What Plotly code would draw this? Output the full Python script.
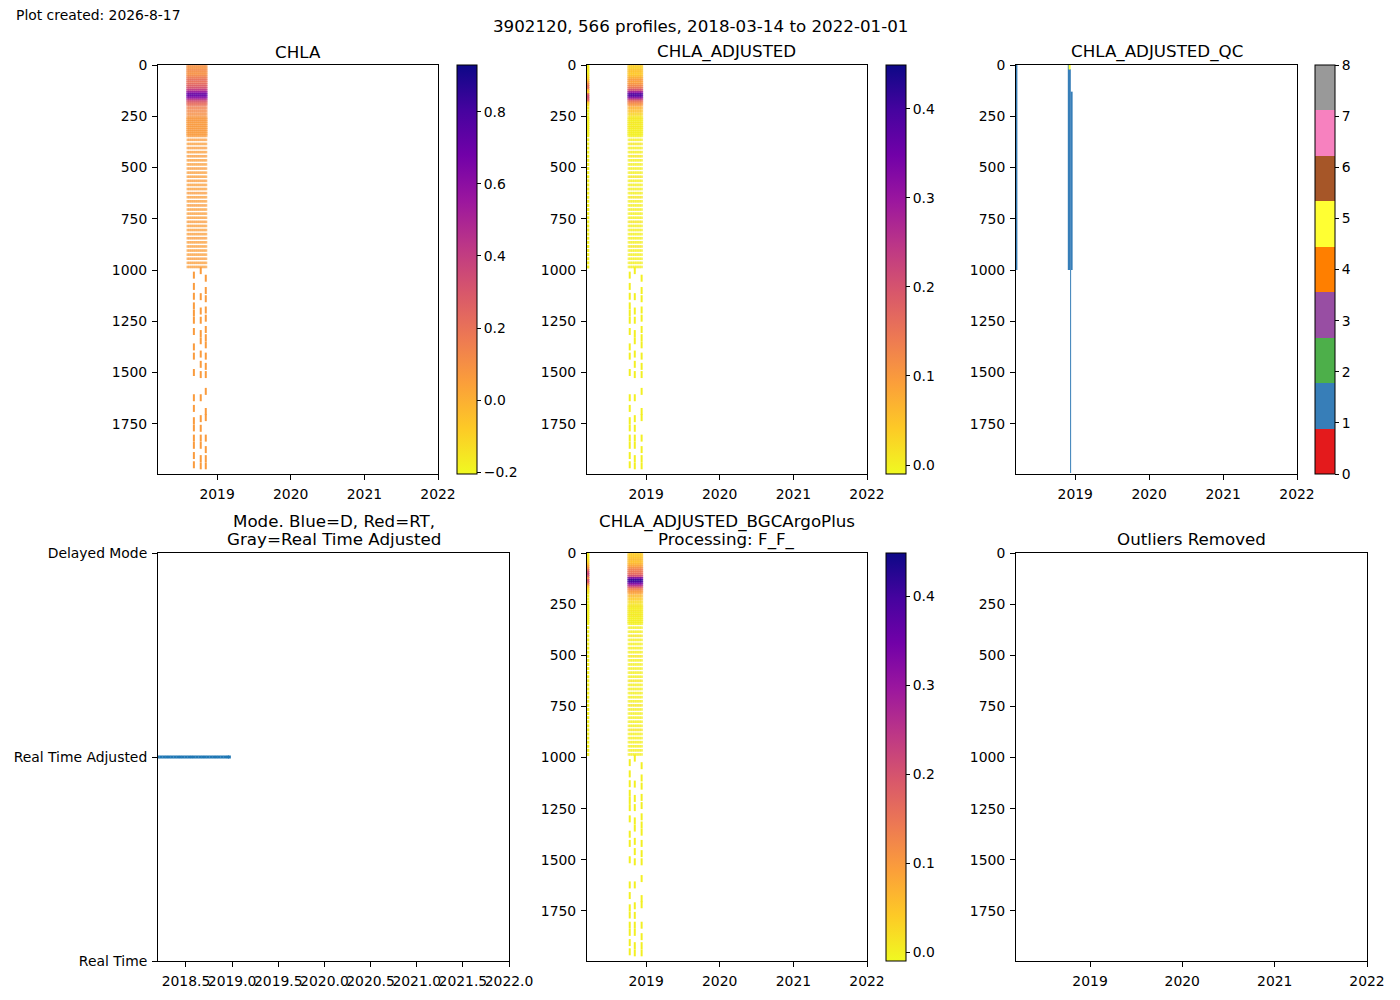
import plotly.graph_objects as go

# profile dates that carry samples in the upper 1000 dbar
chla_dates = ['2018-08-09', '2018-08-19', '2018-08-29', '2018-09-08', '2018-09-18',
              '2018-09-28', '2018-10-08', '2018-10-18', '2018-10-28', '2018-11-07']
adj_dates = ['2018-10-08', '2018-10-17', '2018-10-26', '2018-11-04', '2018-11-13',
             '2018-11-22', '2018-12-01', '2018-12-10']
first_profile_date = '2018-03-18'

# deep profiles (below ~1000 dbar)
chla_deep_dates = ['2018-09-08', '2018-10-12', '2018-11-06']
adj_deep_dates = ['2018-10-12', '2018-11-06', '2018-12-10']

upper_depths = [5, 15, 25, 35, 45, 55, 65, 75, 85, 95,
                105, 115, 125, 135, 145, 155, 165, 175, 185, 195,
                210, 225, 240, 255, 265, 275, 285, 295, 305, 315,
                325, 335, 345, 365, 385, 405, 425, 445, 465, 485,
                505, 525, 545, 565, 585, 605, 625, 645, 665, 685,
                705, 725, 745, 765, 785, 805, 825, 845, 865, 885,
                905, 925, 945, 965, 985]

chla_upper = [0.10, 0.08, 0.12, 0.10, 0.09, 0.14, 0.18, 0.22, 0.20, 0.24,
              0.28, 0.33, 0.45, 0.62, 0.74, 0.68, 0.52, 0.34, 0.25, 0.20,
              0.15, 0.12, 0.10, 0.08, 0.07, 0.07, 0.06, 0.07, 0.06, 0.07,
              0.06, 0.06, 0.06, 0.06, 0.05, 0.06, 0.05, 0.06, 0.05, 0.05,
              0.06, 0.05, 0.05, 0.06, 0.05, 0.05, 0.06, 0.05, 0.05, 0.06,
              0.05, 0.05, 0.05, 0.06, 0.05, 0.05, 0.05, 0.06, 0.05, 0.05,
              0.05, 0.05, 0.06, 0.05, 0.05]

adj_upper = [0.04, 0.03, 0.05, 0.05, 0.04, 0.06, 0.08, 0.10, 0.09, 0.11,
             0.13, 0.16, 0.22, 0.32, 0.40, 0.37, 0.27, 0.17, 0.13, 0.10,
             0.07, 0.05, 0.03, 0.01, 0.01, 0.00, 0.01, 0.00, 0.01, 0.00,
             0.00, 0.00, 0.00, 0.00, 0.01, 0.00, 0.00, 0.01, 0.00, 0.00,
             0.00, 0.00, 0.01, 0.00, 0.00, 0.00, 0.00, 0.01, 0.00, 0.00,
             0.00, 0.00, 0.00, 0.01, 0.00, 0.00, 0.00, 0.00, 0.00, 0.01,
             0.00, 0.00, 0.00, 0.00, 0.00]

plus_upper = [0.04, 0.04, 0.05, 0.06, 0.05, 0.07, 0.09, 0.12, 0.14, 0.15,
              0.17, 0.22, 0.36, 0.42, 0.38, 0.30, 0.22, 0.14, 0.11, 0.09,
              0.06, 0.04, 0.02, 0.01, 0.01, 0.00, 0.01, 0.00, 0.01, 0.00,
              0.00, 0.00, 0.00, 0.00, 0.00, 0.01, 0.00, 0.00, 0.00, 0.00,
              0.01, 0.00, 0.00, 0.00, 0.00, 0.00, 0.01, 0.00, 0.00, 0.00,
              0.00, 0.00, 0.01, 0.00, 0.00, 0.00, 0.00, 0.00, 0.01, 0.00,
              0.00, 0.00, 0.00, 0.00, 0.00]

# first profile (March 2018), adjusted chla
first_adj = [0.00, 0.01, 0.01, 0.00, 0.01, 0.02, 0.03, 0.05, 0.08, 0.12,
             0.15, 0.14, 0.06, 0.04, 0.17, 0.20, 0.19, 0.16, 0.05, 0.02,
             0.01, 0.00, 0.00, 0.00, 0.00, 0.00, 0.00, 0.00, 0.00, 0.00,
             0.00, 0.00, 0.00, 0.00, 0.00, 0.00, 0.00, 0.00, 0.00, 0.00,
             0.00, 0.00, 0.00, 0.00, 0.00, 0.00, 0.00, 0.00, 0.00, 0.00,
             0.00, 0.00, 0.00, 0.00, 0.00, 0.00, 0.00, 0.00, 0.00, 0.00,
             0.00, 0.00, 0.00, 0.00, 0.00]
first_plus = [0.00, 0.01, 0.01, 0.02, 0.03, 0.05, 0.08, 0.11, 0.16, 0.20,
              0.22, 0.18, 0.12, 0.20, 0.18, 0.12, 0.06, 0.03, 0.02, 0.01,
              0.00, 0.00, 0.00, 0.00, 0.00, 0.00, 0.00, 0.00, 0.00, 0.00,
              0.00, 0.00, 0.00, 0.00, 0.00, 0.00, 0.00, 0.00, 0.00, 0.00,
              0.00, 0.00, 0.00, 0.00, 0.00, 0.00, 0.00, 0.00, 0.00, 0.00,
              0.00, 0.00, 0.00, 0.00, 0.00, 0.00, 0.00, 0.00, 0.00, 0.00,
              0.00, 0.00, 0.00, 0.00, 0.00]

deep_depths = [
    [1025, 1080, 1128, 1175, 1210, 1245, 1300, 1375, 1420, 1500, 1623, 1675,
     1735, 1770, 1820, 1855, 1905, 1950],
    [1003, 1130, 1200, 1245, 1310, 1345, 1410, 1460, 1510, 1623, 1725, 1772,
     1820, 1855, 1920, 1955],
    [1040, 1100, 1140, 1195, 1235, 1290, 1330, 1365, 1420, 1470, 1510, 1592,
     1690, 1720, 1820, 1876, 1920, 1955],
]
chla_deep = [0.06, 0.06, 0.06]
adj_deep = [0.0, 0.0, 0.0]

# QC flag segments: date, top, bottom, flag
qc_dates = ['2018-03-16', '2018-11-30', '2018-12-05', '2018-12-14', '2018-12-04', '2018-12-09']
qc_top = [0, 0, 20, 130, 0, 1000]
qc_bottom = [1000, 1000, 1000, 1000, 22, 1990]
qc_flag = [1, 1, 1, 1, 5, 1]

# data mode per profile (1 = real time adjusted)
mode_years = [2018.20, 2018.23, 2018.26, 2018.29, 2018.32, 2018.35, 2018.38, 2018.41,
              2018.44, 2018.47, 2018.50, 2018.53, 2018.56, 2018.59, 2018.62, 2018.65,
              2018.68, 2018.71, 2018.74, 2018.77, 2018.80, 2018.83, 2018.86, 2018.89,
              2018.92, 2018.95, 2018.97]
mode_code = [1, 1, 1, 1, 1, 1, 1, 1, 1, 1, 1, 1, 1, 1, 1, 1, 1, 1, 1, 1, 1, 1, 1, 1, 1, 1, 1]

SET1 = ['#e41a1c', '#377eb8', '#4daf4a', '#984ea3', '#ff7f00',
        '#ffff33', '#a65628', '#f781bf', '#999999']
FONT = 'DejaVu Sans'
# the page adds an 8px body margin, so the figure is drawn 8px smaller
OFF = 8
W, H = 1400 - OFF, 1000 - OFF


def px_x(a, b):
    return [(a - OFF) / W, (b - OFF) / W]


def px_y(top, bottom):
    return [1 - (bottom - OFF) / H, 1 - (top - OFF) / H]


def grid_points(dates, depths, values):
    xs, ys, cs, ss = [], [], [], []
    for d in dates:
        for z, v in zip(depths, values):
            xs.append(d)
            ys.append(z)
            cs.append(v)
            ss.append(3 if z < 350 else 2.6)
    return xs, ys, cs, ss


def deep_points(dates, values):
    xs, ys, cs = [], [], []
    for d, zs, v in zip(dates, deep_depths, values):
        for z in zs:
            xs.append(d)
            ys.append(z)
            cs.append(v)
    return xs, ys, cs


fig = go.Figure()


def add_profile_panel(xa, ya, cax, dates, values, deep_dates, deep_vals,
                      first_vals=None):
    xs, ys, cs, ss = grid_points(dates, upper_depths, values)
    fig.add_trace(go.Scatter(
        x=xs, y=ys, mode='markers', xaxis=xa, yaxis=ya, showlegend=False,
        marker=dict(symbol='square', size=ss, color=cs, coloraxis=cax,
                    line=dict(width=0))))
    if first_vals is not None:
        fx, fy, fc, _ = grid_points([first_profile_date], upper_depths, first_vals)
        fig.add_trace(go.Scatter(
            x=fx, y=fy, mode='markers', xaxis=xa, yaxis=ya, showlegend=False,
            marker=dict(symbol='square', size=3, color=fc, coloraxis=cax,
                        line=dict(width=0))))
    dx, dy, dc = deep_points(deep_dates, deep_vals)
    fig.add_trace(go.Scatter(
        x=dx, y=dy, mode='markers', xaxis=xa, yaxis=ya, showlegend=False,
        marker=dict(symbol='line-ns', size=5, color=dc, coloraxis=cax,
                    line=dict(width=2, color=dc, coloraxis=cax))))


add_profile_panel('x', 'y', 'coloraxis', chla_dates, chla_upper,
                  chla_deep_dates, chla_deep)
add_profile_panel('x2', 'y2', 'coloraxis2', adj_dates, adj_upper,
                  adj_deep_dates, adj_deep, first_adj)
add_profile_panel('x5', 'y5', 'coloraxis3', adj_dates, plus_upper,
                  adj_deep_dates, adj_deep, first_plus)

# QC panel
qc_widths = [2, 2, 2, 2, 2, 1]
for d, t, b, f, w in zip(qc_dates, qc_top, qc_bottom, qc_flag, qc_widths):
    fig.add_trace(go.Scatter(
        x=[d, d], y=[t, b], mode='lines', xaxis='x3', yaxis='y3', showlegend=False,
        line=dict(color=SET1[f], width=w)))
fig.add_trace(go.Scatter(
    x=qc_dates, y=qc_top, mode='markers', xaxis='x3', yaxis='y3', showlegend=False,
    marker=dict(color=qc_flag, coloraxis='coloraxis4', opacity=0, size=1)))

# mode panel
fig.add_trace(go.Scatter(
    x=mode_years, y=mode_code, mode='markers', xaxis='x4', yaxis='y4', showlegend=False,
    marker=dict(symbol='square', size=3, color='#1f77b4', line=dict(width=0))))

# outliers panel: nothing removed, keep axes alive with an empty trace
fig.add_trace(go.Scatter(x=[], y=[], xaxis='x6', yaxis='y6', showlegend=False))

tickfont = dict(family=FONT, size=13.9, color='black')


def ax(**kw):
    d = dict(showline=True, linecolor='black', linewidth=1, mirror=True,
             ticks='outside', ticklen=5, tickcolor='black', showgrid=False,
             zeroline=False, tickfont=tickfont, ticklabelstandoff=2)
    d.update(kw)
    return d


date_range = ['2018-03-14', '2022-01-01']
date_ticks = dict(tickvals=['2019-01-01', '2020-01-01', '2021-01-01', '2022-01-01'],
                  ticktext=['2019', '2020', '2021', '2022'], tickangle=0)
depth_axis = dict(range=[1995, 0], tickvals=[0, 250, 500, 750, 1000, 1250, 1500, 1750],
                  ticktext=['0', '250', '500', '750', '1000', '1250', '1500', '1750'])

top = px_y(65, 474)
bot = px_y(553, 961)

fig.update_layout(
    xaxis=ax(domain=px_x(158, 438), anchor='y', type='date', range=date_range, **date_ticks),
    yaxis=ax(domain=top, anchor='x', **depth_axis),
    xaxis2=ax(domain=px_x(587, 867), anchor='y2', type='date', range=date_range, **date_ticks),
    yaxis2=ax(domain=top, anchor='x2', **depth_axis),
    xaxis3=ax(domain=px_x(1016, 1297), anchor='y3', type='date', range=date_range, **date_ticks),
    yaxis3=ax(domain=top, anchor='x3', **depth_axis),
    xaxis4=ax(domain=px_x(158, 509), anchor='y4', range=[2018.197, 2022.0], tickangle=0,
              tickvals=[2018.5, 2019.0, 2019.5, 2020.0, 2020.5, 2021.0, 2021.5, 2022.0],
              ticktext=['2018.5', '2019.0', '2019.5', '2020.0', '2020.5', '2021.0',
                        '2021.5', '2022.0']),
    yaxis4=ax(domain=bot, anchor='x4', range=[0, 2], tickvals=[0, 1, 2],
              ticktext=['Real Time', 'Real Time Adjusted', 'Delayed Mode']),
    xaxis5=ax(domain=px_x(587, 867), anchor='y5', type='date', range=date_range, **date_ticks),
    yaxis5=ax(domain=bot, anchor='x5', **depth_axis),
    xaxis6=ax(domain=px_x(1016, 1367), anchor='y6', type='date', range=date_range, **date_ticks),
    yaxis6=ax(domain=bot, anchor='x6', **depth_axis),
)


def cbar(x, ydom, tickvals, ticktext):
    return dict(x=(x - OFF) / W, xanchor='left', xpad=0, ypad=0, y=ydom[1], yanchor='top',
                len=ydom[1] - ydom[0], lenmode='fraction', thickness=20,
                outlinewidth=1, outlinecolor='black', ticks='outside', ticklen=4,
                tickcolor='black', tickfont=tickfont, tickvals=tickvals,
                ticktext=ticktext)


qc_scale = []
for i, c in enumerate(SET1):
    qc_scale.append([i / 9, c])
    qc_scale.append([(i + 1) / 9, c])

fig.update_layout(
    coloraxis=dict(colorscale='Plasma', reversescale=True, cmin=-0.205, cmax=0.93,
                   colorbar=cbar(457, top, [-0.2, 0, 0.2, 0.4, 0.6, 0.8],
                                 ['\u22120.2', '0.0', '0.2', '0.4', '0.6', '0.8'])),
    coloraxis2=dict(colorscale='Plasma', reversescale=True, cmin=-0.01, cmax=0.449,
                    colorbar=cbar(886, top, [0, 0.1, 0.2, 0.3, 0.4],
                                  ['0.0', '0.1', '0.2', '0.3', '0.4'])),
    coloraxis3=dict(colorscale='Plasma', reversescale=True, cmin=-0.01, cmax=0.449,
                    colorbar=cbar(886, bot, [0, 0.1, 0.2, 0.3, 0.4],
                                  ['0.0', '0.1', '0.2', '0.3', '0.4'])),
    coloraxis4=dict(colorscale=qc_scale, cmin=0, cmax=8,
                    colorbar=cbar(1315, top, list(range(9)), [str(i) for i in range(9)])),
)

titles = [
    ('Plot created: 2026-8-17', 14, 15, 13.9, 'left'),
    ('3902120, 566 profiles, 2018-03-14 to 2022-01-01', 700, 26, 16.7, 'center'),
    ('CHLA', 298, 52, 16.7, 'center'),
    ('CHLA_ADJUSTED', 727, 52, 16.7, 'center'),
    ('CHLA_ADJUSTED_QC', 1156.5, 52, 16.7, 'center'),
    ('Mode. Blue=D, Red=RT,', 333.5, 521, 16.7, 'center'),
    ('Gray=Real Time Adjusted', 333.5, 539, 16.7, 'center'),
    ('CHLA_ADJUSTED_BGCArgoPlus', 727, 521, 16.7, 'center'),
    ('Processing: F_F_', 727, 539, 16.7, 'center'),
    ('Outliers Removed', 1191.5, 539, 16.7, 'center'),
]
for text, x, y, size, anchor in titles:
    fig.add_annotation(text=text, x=(x - OFF) / W, y=1 - (y - OFF) / H,
                       xref='paper', yref='paper',
                       xanchor=anchor, yanchor='middle', showarrow=False,
                       font=dict(family=FONT, size=size, color='black'))

fig.update_layout(
    width=W, height=H,
    margin=dict(l=0, r=0, t=0, b=0, autoexpand=False),
    paper_bgcolor='white', plot_bgcolor='white',
    font=dict(family=FONT, color='black'),
    showlegend=False,
)

fig.write_html("out.html")
